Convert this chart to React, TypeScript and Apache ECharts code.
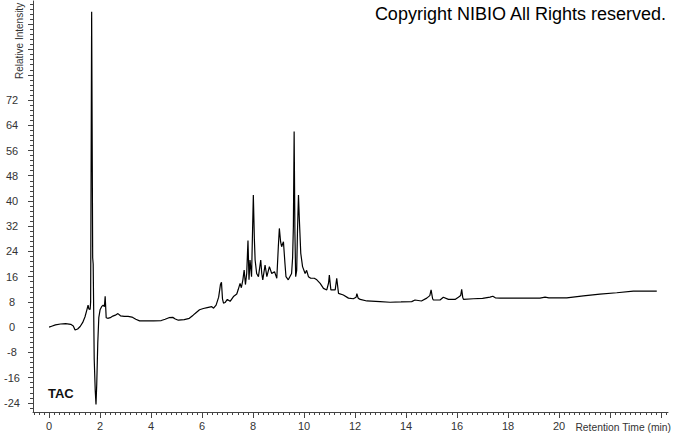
import React, { useEffect, useRef } from "react";
import * as echarts from "echarts";

// Retention time (min) and relative intensity
const retentionTime = [
  0.0, 0.1, 0.25, 0.45, 0.65, 0.85, 0.95, 1.02, 1.12, 1.22, 1.32, 1.41, 1.48, 1.53, 1.56, 1.61,
  1.63, 1.67, 1.71, 1.73, 1.77, 1.81, 1.84, 1.87, 1.91, 1.95, 2.0, 2.06, 2.12, 2.17, 2.2, 2.24,
  2.3, 2.4, 2.5, 2.6, 2.7, 2.8, 2.95, 3.1, 3.25, 3.4, 3.55, 3.8, 4.1, 4.4, 4.55, 4.7, 4.85, 4.95,
  5.07, 5.3, 5.5, 5.65, 5.75, 5.9, 6.05, 6.2, 6.38, 6.45, 6.55, 6.65, 6.72, 6.76, 6.8, 6.84, 6.9,
  6.99, 7.1, 7.23, 7.36, 7.42, 7.49, 7.54, 7.6, 7.65, 7.7, 7.75, 7.8, 7.84, 7.88, 7.94, 8.01, 8.05,
  8.08, 8.14, 8.21, 8.3, 8.34, 8.38, 8.47, 8.54, 8.64, 8.73, 8.84, 8.93, 8.99, 9.03, 9.08, 9.12,
  9.19, 9.25, 9.29, 9.38, 9.51, 9.55, 9.58, 9.61, 9.64, 9.67, 9.71, 9.74, 9.78, 9.81, 9.87, 9.94,
  10.04, 10.1, 10.17, 10.26, 10.4, 10.5, 10.63, 10.76, 10.89, 10.96, 10.99, 11.05, 11.22, 11.28,
  11.35, 11.54, 11.74, 11.93, 12.04, 12.07, 12.12, 12.2, 12.46, 12.98, 13.37, 13.8, 14.22, 14.35,
  14.6, 14.81, 14.93, 14.98, 15.04, 15.07, 15.33, 15.46, 15.66, 15.92, 16.05, 16.14, 16.18, 16.22,
  16.25, 16.64, 17.0, 17.29, 17.4, 17.5, 17.69, 18.5, 19.25, 19.45, 19.6, 20.3, 20.95, 21.6, 22.26,
  22.91, 23.83,
];
const intensity = [
  0.0, 0.3, 0.7, 1.0, 1.1, 0.9, 0.4, -0.9, -0.6, 0.2, 1.5, 3.3, 5.4, 7.0, 5.8, 5.6,
  8, 100, 22, 20, -10, -20, -24.5, -18, -5, 3, 5.5, 6.5, 7, 6.5, 9.8, 3,
  2.8, 3.0, 3.5, 3.8, 4.3, 3.6, 3.4, 3.4, 3.2, 2.5, 2.0, 2.0, 2.0, 2.1, 2.5, 3.0, 3.1, 2.6,
  2.2, 2.4, 2.8, 3.8, 4.5, 5.5, 5.9, 6.2, 6.5, 6.0, 7.0, 9.5, 13.5, 14.2, 9, 7.6, 7.8,
  8.8, 8.2, 9.7, 10.5, 12, 13.9, 12.5, 15, 18.1, 13.5, 17, 27.5, 15, 21.3, 16, 41.9, 28,
  21.3, 17, 16, 21.3, 17, 15, 19.7, 16, 19.2, 17, 17.6, 15.5, 25.5, 31.3, 27, 25.5,
  27.1, 20.2, 16, 15, 17, 22, 31.8, 62, 30, 16, 18, 30, 41.9, 35, 23.4, 19.2,
  17, 18, 16, 15.5, 15.5, 15, 13.9, 12.3, 11.8, 14, 16.5, 11.8, 11.8, 15.5,
  10.7, 10.2, 9.2, 9.0, 9.5, 10.6, 9.2, 8.8, 8.3, 8.1, 7.9, 8.0, 8.1, 8.6,
  8.3, 9.2, 10, 11.8, 9, 8.6, 8.6, 9.5, 8.8, 8.8, 9.5, 10, 12, 9.5,
  8.8, 9, 9.1, 9.5, 9.8, 9.3, 9.2, 9.2, 9.2, 9.5, 9.3, 9.3, 9.9, 10.5, 10.9,
  11.4, 11.4,
];

const xTickLabels = [0, 2, 4, 6, 8, 10, 12, 14, 16, 18, 20];
const xMajorTicks = [0, 2, 4, 6, 8, 10, 12, 14, 16, 18, 20, 22, 24];
const yTickLabels = [-24, -16, -8, 0, 8, 16, 24, 32, 40, 48, 56, 64, 72];
const yMajorTicks = [-24, -16, -8, 0, 8, 16, 24, 32, 40, 48, 56, 64, 72, 80, 88, 96];

const xMinorTicks: number[] = [];
for (let i = -3; i <= 121; i++) xMinorTicks.push(+(i * 0.2).toFixed(2));
const yMinorTicks: number[] = [];
for (let i = -16; i <= 64; i++) yMinorTicks.push(+(i * 1.6).toFixed(2));

export default function App() {
  const ref = useRef<HTMLDivElement>(null);
  useEffect(() => {
    if (!ref.current) return;
    const chart = echarts.init(ref.current, null, { renderer: "svg" });
    const font = "'Liberation Sans', Arial, sans-serif";
    const axisColor = "#444";
    const labelColor = "#333";
    const xMin = -0.63, xMax = 24.27, yMin = -26.9, yMax = 103.4;
    const data = retentionTime.map((t, i) => [t, intensity[i]]);
    chart.setOption({
      animation: false,
      backgroundColor: "#fff",
      grid: { left: 33, right: 5, top: 1, bottom: 21, containLabel: false },
      xAxis: [
        {
          type: "value", min: xMin, max: xMax, position: "bottom",
          splitLine: { show: false },
          axisLine: { show: true, onZero: false, lineStyle: { color: axisColor, width: 1 } },
          axisTick: { show: true, customValues: xMajorTicks, length: 6, lineStyle: { color: axisColor } },
          axisLabel: { customValues: xTickLabels, margin: 8, fontSize: 11, color: labelColor, fontFamily: font },
        },
        {
          type: "value", min: xMin, max: xMax, position: "bottom",
          splitLine: { show: false },
          axisLine: { show: false, onZero: false },
          axisTick: { show: true, customValues: xMinorTicks, length: 3, lineStyle: { color: axisColor } },
          axisLabel: { show: false },
        },
      ],
      yAxis: [
        {
          type: "value", min: yMin, max: yMax, position: "left",
          splitLine: { show: false },
          axisLine: { show: true, onZero: false, lineStyle: { color: axisColor, width: 1 } },
          axisTick: { show: true, customValues: yMajorTicks, length: 5, lineStyle: { color: axisColor } },
          axisLabel: { customValues: yTickLabels, margin: 21, align: "center", fontSize: 11, color: labelColor, fontFamily: font },
        },
        {
          type: "value", min: yMin, max: yMax, position: "left",
          splitLine: { show: false },
          axisLine: { show: false, onZero: false },
          axisTick: { show: true, customValues: yMinorTicks, length: 3, lineStyle: { color: axisColor } },
          axisLabel: { show: false },
        },
      ],
      graphic: [
        {
          type: "text", x: 666, y: 14,
          style: { text: "Copyright NIBIO All Rights reserved.", fill: "#000", font: `18px ${font}`, align: "right", verticalAlign: "middle" },
        },
        {
          type: "text", x: 48, y: 393,
          style: { text: "TAC", fill: "#111", font: `bold 13px ${font}`, align: "left", verticalAlign: "middle" },
        },
        {
          type: "text", x: 671, y: 427,
          style: { text: "Retention Time (min)", fill: labelColor, font: `10.3px ${font}`, align: "right", verticalAlign: "middle" },
        },
        {
          type: "text", x: 19, y: 79, rotation: Math.PI / 2,
          style: { text: "Relative Intensity", fill: labelColor, font: `10px ${font}`, align: "left", verticalAlign: "middle" },
        },
      ],
      series: [
        {
          type: "line",
          xAxisIndex: 0,
          yAxisIndex: 0,
          data,
          showSymbol: false,
          symbol: "none",
          lineStyle: { color: "#000", width: 1.2 },
          silent: true,
        },
      ],
    });
    return () => chart.dispose();
  }, []);
  return <div ref={ref} style={{ width: 673, height: 433, position: "absolute", left: 0, top: 0 }} />;
}
